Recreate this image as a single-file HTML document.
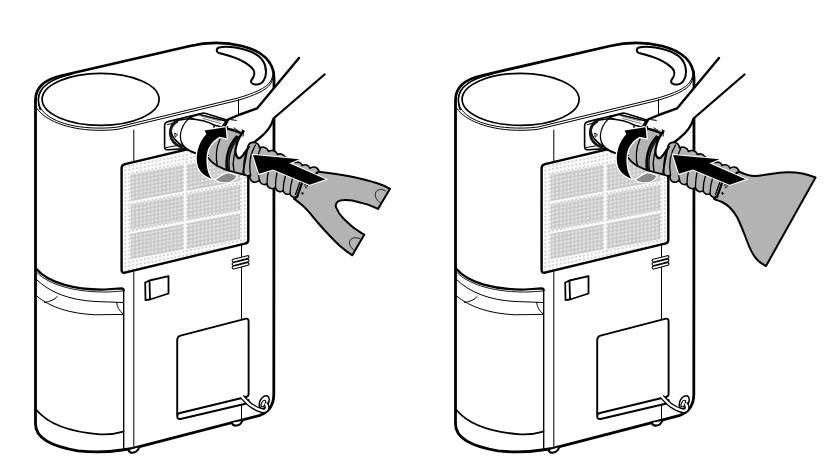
<!DOCTYPE html>
<html><head><meta charset="utf-8"><style>
html,body{margin:0;padding:0;background:#fff;width:831px;height:470px;overflow:hidden;font-family:"Liberation Sans",sans-serif;}
svg{display:block;}
</style></head><body>
<svg width="831" height="470" viewBox="0 0 831 470">
<defs>
<pattern id="dotsO" width="3.85" height="3.85" patternUnits="userSpaceOnUse" patternTransform="skewY(-11) translate(0.3,0.5)">
<rect x="0.7" y="0.7" width="2.5" height="2.5" rx="1.2" fill="#d4d4d4"/>
</pattern>
<pattern id="dotsI" width="3.85" height="3.85" patternUnits="userSpaceOnUse" patternTransform="skewY(-10.4) translate(0.3,0.5)">
<rect width="3.85" height="3.85" fill="#c6c6c6"/>
<rect x="0.65" y="0.65" width="2.6" height="2.6" rx="1.2" fill="#e3e3e3"/>
</pattern>
<g id="body" fill="none" stroke="#000" stroke-linejoin="round" stroke-linecap="round">
<!-- silhouette -->
<path fill="#fff" stroke-width="2.8" d="M35.5,424 L35.5,100 C35.5,86 46,79 62,75.5 L190,46 C205,42.5 225,42 242,46 C262,51 274,62 274,78 L273.8,394 C273.8,404.5 268.5,412 260,415.3 L139.5,446.6 C134,448.4 129,449.5 122,450 C110,451.8 92,452.4 78,450.8 C58,447.5 35.5,440 35.5,424 Z"/>
<!-- top ellipse -->
<ellipse cx="100.6" cy="99.3" rx="58.5" ry="26" stroke-width="1.7"/>
<!-- rim lines -->
<path stroke-width="1" d="M70,74.5 C50,79 38.5,88 38.3,100 C38.5,115 60,126 90,127.8 C100,128.3 108,128.3 118,127 L238,98 C255,93 266,88 270,82 C272.5,78 273.5,74 273.8,70"/>
<path stroke-width="1" d="M36,107 C42,118 62,128 90,130 C100,130.5 108,130.5 118,129.3 L238,100.3 C255,95.3 266,90.3 270.5,84 C272.7,80 273.7,76 273.9,72"/>
<path stroke-width="1.6" d="M72,74 C52,78.5 39,87 38.4,99 C38.3,104 39,107 40.2,109.5"/>
<!-- handle slot -->
<path fill="#fff" stroke-width="2" d="M219,47.5 C216,48.5 216,52 219,53 C232,56 245,61 252,68 C256,72 254,77 251.5,80 C250,83 253,85 257.5,84.5 C263,84 266,78 266,72 C266,62 260,54 246,50 C237,47.5 226,46 219,47.5 Z"/>
<!-- vertical edges -->
<path stroke-width="1" d="M133.8,130 V162 M133.8,272 V446.5 M238.5,99.5 V114.5 M241.5,244 V319 M241.5,404 V420"/>
<!-- filter panel -->
<path fill="url(#dotsO)" stroke-width="2.4" d="M121.6,168 Q121.6,165 125,164.2 L245,135.6 Q248.3,135 248.3,138 L248.3,240 Q248.3,243 245,243.6 L125,272.6 Q121.6,273.4 121.6,270 Z"/>
<path fill="url(#dotsI)" stroke="none" d="M130.6,174.5 L183.5,164.8 L183.5,191.6 L130.6,201.3 Z M187,164.2 L240,154.5 L240,181.3 L187,191 Z M130.6,204.6 L183.5,194.9 L183.5,220.6 L130.6,230.3 Z M187,194.3 L240,184.6 L240,210.3 L187,220 Z M130.6,233.7 L183.5,224 L183.5,249.6 L130.6,259.3 Z M187,223.4 L240,213.7 L240,239.3 L187,249 Z"/>
<!-- vents -->
<path stroke-width="3.8" d="M233.5,260.6 L247.6,257 M233.5,264.1 L247.6,260.5 M233.5,267.6 L247.6,264"/>
<path stroke="#fff" stroke-width="1.6" d="M233.5,260.6 L247.6,257 M233.5,264.1 L247.6,260.5 M233.5,267.6 L247.6,264"/>
<!-- switch -->
<path fill="#fff" stroke-width="1.8" d="M145.2,282.5 L149.5,280.5 L168.5,276.2 L168.5,293.5 L150,299.5 L145.5,300.2 Z M149.5,280.5 L150,299.5"/>
<!-- tank -->
<path stroke-width="2.2" d="M36,268.5 C48,283 75,290 105,289.5 L121.5,288.3 Q123.7,288.3 123.7,290.5"/>
<path stroke-width="1.35" d="M123.7,290 L123.7,448.5"/>
<path stroke-width="0.9" d="M37,272.5 C50,286 78,292.5 108,292 L123,291"/>
<path stroke-width="1" d="M36,279 C50,293 70,300 95,301.5 L123,302.5 M36,295.5 C50,307.5 70,313.5 95,314.8 L123,314.4 M44.5,302.4 Q53,301.5 57.3,296.5 M116.7,302.4 Q117,309 122.8,313.6"/>
<path stroke-width="1.8" d="M36.5,410 C48,424 70,432 100,434.3 C110,434.8 117,433.5 123.4,431.6"/>
<!-- drain panel -->
<path fill="#fff" stroke-width="1.9" d="M177.2,340 Q177.2,336.5 180.5,335.6 L245,318.8 Q248.6,318 248.6,321.5 L248.6,394 Q248.6,396.5 246,397 L180,413 Q177.2,413.6 177.2,416 Q177.2,419.5 180.5,419 L246.5,403.5 Q248.6,403 248.6,400 M177.2,340 V416"/>
<!-- feet -->
<path fill="#fff" stroke-width="2.1" d="M128.6,450.3 C130,454 137,453.8 139.3,447 M231.6,422.7 C233,426.8 240,426.8 242.2,421"/>
<path stroke-width="0.9" d="M130.3,448.8 L137.2,447.2"/>
<!-- drain hose -->
<ellipse cx="264.2" cy="402.2" rx="4.3" ry="7" transform="rotate(28 264.2 402.2)" stroke-width="1.5" fill="#fff"/>
<ellipse cx="263.3" cy="403.6" rx="1.8" ry="3.6" transform="rotate(28 263.3 403.6)" stroke-width="1.1" fill="none"/>
<path stroke-width="4.8" stroke-linecap="butt" d="M242,396.5 C246,401 249,404.5 253,406.6 C257,409 261,411 264,410.8 C267.5,410.5 268,406.5 265.5,403.5"/>
<path stroke="#fff" stroke-width="2.3" stroke-linecap="butt" d="M241.5,396 C246,401 249,404.5 253,406.6 C257,409 261,411 264,410.8 C267.5,410.5 268,406.5 265.5,403.5"/>
</g>
<g id="hand" fill="none" stroke="#000" stroke-linejoin="round" stroke-linecap="round">
<!-- recess -->
<path fill="#fff" stroke-width="1.6" d="M164.6,126 Q164.6,122.3 168,121.6 L201,113.5 Q203.5,112.8 206,113.6 L230,121 L214,155 L186,148.6 L168.5,149.8 Q164.6,150.1 164.6,146.5 Z"/>
<path stroke-width="1" d="M167.5,124.6 L201,116.3 M166,147.6 L181,144.8"/>
<!-- clip on top of connector -->
<path fill="#fff" stroke-width="1.4" d="M189,117.5 L199,114.5 L226,121 L222,127 L205,123 Z"/>
<path stroke-width="0.8" stroke="#555" d="M201,116 L220,121 M203,118.5 L221,123.5"/>
<!-- connector cylinder -->
<path fill="#fff" stroke-width="1.5" d="M171,131 C171,124 174,120.8 178,120.2 L188,118.8 C200,119.5 208,121.5 214,125 L214,156 C205,155 199,154.5 195,153.2 C190,151.5 186,149.5 183.5,146.7 C179,143.5 172,139 171,131 Z"/>
<path stroke-width="2.8" stroke="#161616" d="M177,121.6 C172,124 170,129 170.4,134.5 C170.9,140 174.5,144.5 181.5,147.2"/>
<path stroke-width="1.3" d="M188.7,118.6 C184,123 181,129 180.4,135 C180.1,140 182,145 186,148 C189,150.3 192,151.8 195.5,152.9"/>
<path stroke-width="0.9" d="M175,133.2 L177.6,134.8 L175.6,136.8 Z"/>
<!-- gray collar -->
<path fill="#b3b3b3" stroke="none" d="M213,132 C220,128 232,127 245,130.5 L247,150 L247,176 C236,174 222,170 213,164 C207,158 206,140 213,132 Z"/>
<path stroke-width="1.7" d="M207.5,157 C212,164 222,169 232,171.5 C238,173 243,174.5 247,175.5"/>
<path stroke-width="1.3" d="M220,139 C216.5,147 215.5,158 217.5,166.5 M236.5,136 C228,145 224.5,158 226.5,170 M238,136.5 C229.5,145.5 226,158 228,170.5 M239.5,137 C231,146 227.5,158 229.5,171 M241,140 C234,150 232,162 234,172"/>
<!-- fingers hatch over collar top -->
<path stroke-width="2.3" d="M226.5,128.3 C231,129.3 235,130.6 238.8,132.3 C240.5,133.1 242,133.7 243.4,134.4"/>
<!-- gray arrow tail -->
<path fill="#8a8a8a" stroke="#fff" stroke-width="2.4" paint-order="stroke" d="M215.8,180 C219.5,177 223.5,174.5 227.5,173.2 C231,173.7 234,174.8 236.6,176 C234.5,179.6 231.5,181.8 228,182.2 C223.5,182.6 219.5,181.8 215.8,180 Z"/>
<!-- curved black arrow -->
<path fill="#000" stroke="#fff" stroke-width="2.6" paint-order="stroke" d="M211.5,178.8 C205.5,176.5 200.5,172.5 198.3,167.5 C196.3,162 196.3,155 198,149 C199.5,143.5 202.5,138 206.5,134 L204.5,130.5 L225.5,127.3 L226.6,138.3 L219.5,136.8 C214,140 209.5,145 207.5,151 C206,157 206.2,163 207.3,169 C208.2,173 209.5,176 211.5,178.8 Z"/>
<!-- hand -->
<path fill="#fff" stroke="none" d="M256,108 L299,58 L324.5,74.5 L273,119 C271,127 266,133 259,139 C252,144 247,149 243,155 C241,158 239,159.5 237,157.5 C235,155 235,151 236,147 C237,141 240,136 243.5,131.5 L236,128.5 L229,126.8 L225.5,125.3 L227.5,120 L233,117 L240,114.5 Z"/>
<path stroke-width="2.4" d="M299,58 L257,108.4 L240,114.5 L228.3,119.3 L225.2,125.3"/>
<path stroke-width="2.3" d="M324.5,74.5 L273.5,118.5 C271.5,127 266,133 259,138.5 C252,143.5 247,149 243.5,154.5 C241.5,157.5 239.5,159 237.5,157.5 C235.5,155.5 235,151 236,147 C237.5,140 240,135.5 243.5,131.2"/>
<path stroke-width="1" d="M234,127.8 C235.5,128.8 237,130.2 238.4,131.6 M242.3,129.6 C243.4,131.4 243.6,134 243,136.2 M231.5,119.7 L236.3,120.4"/>
<!-- hose -->
<path fill="#b3b3b3" stroke="#000" stroke-width="1.6" d="M248,146 A6,6 0 0 1 259.5,148 A6,6 0 0 1 268.5,151.5 A6,6 0 0 1 277.5,154.5 A5.5,5.5 0 0 1 285,157 L296,162.5 A4.5,4.5 0 0 1 302,165.5 A5.5,5.5 0 0 1 310,168.3 A5.5,5.5 0 0 1 319,171.7 L302.3,182.5 L297.2,196.8 L296.3,196.6 A4.2,4.2 0 0 1 290,193.6 A4.5,4.5 0 0 1 283.2,190.6 A4.7,4.7 0 0 1 275.5,187.2 A5,5 0 0 1 267,183.8 A5,5 0 0 1 259.4,179.6 A5,5 0 0 1 250.5,175 A5,5 0 0 1 243,172 Z"/>
<path stroke-width="1.3" d="M249.5,146.5 C245,153 243,162 244,172.5 M255.5,145 C250.5,153 248.5,163 250.5,175 M261,147.5 C257,155 255.5,164 259.4,179.6 M267,183.8 C267,179 267.5,175 268.5,171 M275.5,187.2 C275.5,182 276,177 277,172.5 M283.2,190.6 C283.2,186 284,180 285.5,175.5 M290,193.6 C290.2,189 291,183 292.5,178.5 M295.5,194.5 L300,182"/>
<path stroke-width="1.9" d="M302.3,182.5 L297.2,196.8"/>
</g>
<path id="bigarrow" fill="#000" stroke="#fff" stroke-width="2.2" paint-order="stroke" d="M253,155 L299.5,159.3 L289.3,163.3 L325.6,179.3 L309.6,184.7 L273,169.5 L259,173.8 Z"/>
</defs>
<use href="#body"/>
<use href="#body" transform="translate(420,0)"/>
<use href="#hand"/>
<use href="#hand" transform="translate(420,0)"/>
<g fill="none" stroke="#000" stroke-linejoin="round" stroke-linecap="round">
<!-- left Y nozzle -->
<path fill="#b3b3b3" stroke-width="2" d="M319,171.7 C330,173 340,174.5 349.6,176.3 C360,178.5 370,181 378,183.5 C384,185.5 387,187 390,188.8 L378,208.9 C372,206 368,204.5 364.2,203.6 C358,201.8 354,200.6 349.6,200.2 C344,199.8 340,200 338,201.5 C335.5,203.5 335.3,206 336.4,208 C338,212 340,215 343,218 C347,222 352,227 356.2,229.5 C359,231.5 361.5,233 364.2,234.7 L352.3,255.3 C348,252.5 344,249.5 340,246 C334,240.5 328.4,234.7 319,224 C313,217 308,210 302,205 C299,202.5 296.5,200.5 294,198.6 L297.2,196.8 L302.3,182.5 Z"/>
<path stroke-width="0.8" d="M385.4,190.8 C381,188.5 377,189 375.5,193 C374.5,197 377,201 381.4,203.4 M360.2,238.7 C355,236.5 350.5,238 349.6,241.5 C349,245 351,248.5 355,250.6"/>
<!-- right flared nozzle -->
<path fill="#b3b3b3" stroke-width="2" d="M739,171.7 C745,174.5 750,176.2 755,176 C765,175.5 775,172.5 787,172.2 C797,172 806,173.5 815.5,177.5 L766,266 C762,264 759,262 756.5,259 C752,254 750,249 747,241 C744,233 741,225 737,217 C733,210 728,205 722,202 C719,200.5 716.5,200.5 714,198.6 L717.2,196.8 L722.3,182.5 Z"/>
<!-- nozzle collars / marks (both) -->

<path stroke-width="0.7" d="M305,184.5 L308,185.5 L306,188 Z M725,184.5 L728,185.5 L726,188 Z"/>
<path fill="#000" stroke-width="0.6" d="M302.6,192.3 L303.6,193.5 L302.6,194.7 L301.6,193.5 Z M722.6,192.3 L723.6,193.5 L722.6,194.7 L721.6,193.5 Z"/>
</g>
<use href="#bigarrow"/>
<use href="#bigarrow" transform="translate(420,0)"/>
</svg>
</body></html>
